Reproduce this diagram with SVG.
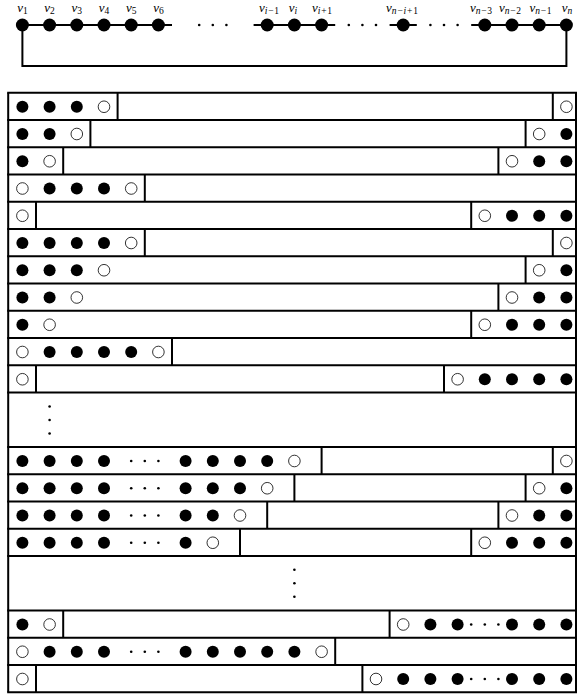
<svg xmlns="http://www.w3.org/2000/svg" width="577" height="696" viewBox="0 0 577 696">
<style>
.bg{fill:#fff}
.ln{stroke:#000;stroke-width:2;fill:none}
.f{fill:#000}
.h{fill:#fff;stroke:#000;stroke-width:0.8}
.d{fill:#000}
.lbl{font-family:"Liberation Serif",serif;font-style:italic;font-size:13px;fill:#000}
.s{font-size:9.5px}
.u{font-style:normal}
</style>
<rect class="bg" x="0" y="0" width="577" height="696"/>

<!-- top path graph -->
<g id="edges">
<path class="ln" d="M22.4 25H172M253.6 25H335.2M389.6 25H416.8M471.2 25H566.4"/>
<path class="ln" d="M22.4 25V66H566.4V25"/>
<circle class="d" cx="199.2" cy="25" r="1.3"/><circle class="d" cx="212.8" cy="25" r="1.3"/><circle class="d" cx="226.4" cy="25" r="1.3"/>
<circle class="d" cx="348.8" cy="25" r="1.3"/><circle class="d" cx="362.4" cy="25" r="1.3"/><circle class="d" cx="376" cy="25" r="1.3"/>
<circle class="d" cx="430.4" cy="25" r="1.3"/><circle class="d" cx="444" cy="25" r="1.3"/><circle class="d" cx="457.6" cy="25" r="1.3"/>
</g>
<g id="v1"><circle class="f" cx="22.4" cy="25" r="6.5"/><text class="lbl" x="22.4" y="11.5" text-anchor="middle">v<tspan class="s u" dy="2">1</tspan></text></g>
<g id="v2"><circle class="f" cx="49.6" cy="25" r="6.5"/><text class="lbl" x="49.6" y="11.5" text-anchor="middle">v<tspan class="s u" dy="2">2</tspan></text></g>
<g id="v3"><circle class="f" cx="76.8" cy="25" r="6.5"/><text class="lbl" x="76.8" y="11.5" text-anchor="middle">v<tspan class="s u" dy="2">3</tspan></text></g>
<g id="v4"><circle class="f" cx="104" cy="25" r="6.5"/><text class="lbl" x="104" y="11.5" text-anchor="middle">v<tspan class="s u" dy="2">4</tspan></text></g>
<g id="v5"><circle class="f" cx="131.2" cy="25" r="6.5"/><text class="lbl" x="131.2" y="11.5" text-anchor="middle">v<tspan class="s u" dy="2">5</tspan></text></g>
<g id="v6"><circle class="f" cx="158.4" cy="25" r="6.5"/><text class="lbl" x="158.4" y="11.5" text-anchor="middle">v<tspan class="s u" dy="2">6</tspan></text></g>
<g id="vi-1"><circle class="f" cx="267.2" cy="25" r="6.5"/><text class="lbl" x="269" y="11.5" text-anchor="middle">v<tspan class="s" dy="2">i</tspan><tspan class="s u" dx="0.8">−</tspan><tspan class="s u" dx="0.8">1</tspan></text></g>
<g id="vi"><circle class="f" cx="294.4" cy="25" r="6.5"/><text class="lbl" x="293" y="11.5" text-anchor="middle">v<tspan class="s" dy="2">i</tspan></text></g>
<g id="vi+1"><circle class="f" cx="321.6" cy="25" r="6.5"/><text class="lbl" x="322" y="11.5" text-anchor="middle">v<tspan class="s" dy="2">i</tspan><tspan class="s u" dx="0.8">+</tspan><tspan class="s u" dx="0.8">1</tspan></text></g>
<g id="vn-i+1"><circle class="f" cx="403.2" cy="25" r="6.5"/><text class="lbl" x="402" y="11.5" text-anchor="middle">v<tspan class="s" dy="2">n</tspan><tspan class="s u" dx="0.8">−</tspan><tspan class="s" dx="0.8">i</tspan><tspan class="s u" dx="0.8">+</tspan><tspan class="s u" dx="0.8">1</tspan></text></g>
<g id="vn-3"><circle class="f" cx="484.8" cy="25" r="6.5"/><text class="lbl" x="481" y="11.5" text-anchor="middle">v<tspan class="s" dy="2">n</tspan><tspan class="s u" dx="0.8">−</tspan><tspan class="s u" dx="0.8">3</tspan></text></g>
<g id="vn-2"><circle class="f" cx="512" cy="25" r="6.5"/><text class="lbl" x="510" y="11.5" text-anchor="middle">v<tspan class="s" dy="2">n</tspan><tspan class="s u" dx="0.8">−</tspan><tspan class="s u" dx="0.8">2</tspan></text></g>
<g id="vn-1"><circle class="f" cx="539.2" cy="25" r="6.5"/><text class="lbl" x="540.5" y="11.5" text-anchor="middle">v<tspan class="s" dy="2">n</tspan><tspan class="s u" dx="0.8">−</tspan><tspan class="s u" dx="0.8">1</tspan></text></g>
<g id="vn"><circle class="f" cx="566.4" cy="25" r="6.5"/><text class="lbl" x="567" y="11.5" text-anchor="middle">v<tspan class="s" dy="2">n</tspan></text></g>

<!-- table grid -->
<g id="grid">
<path class="ln" d="M8.2 92.75V692.25M576 92.75V692.25"/>
<path class="ln" d="M7.2 92.75H577M7.2 120H577M7.2 147.25H577M7.2 174.5H577M7.2 201.75H577M7.2 229H577M7.2 256.25H577M7.2 283.5H577M7.2 310.75H577M7.2 338H577M7.2 365.25H577M7.2 392.5H577M7.2 447H577M7.2 474.25H577M7.2 501.5H577M7.2 528.75H577M7.2 556H577M7.2 610.5H577M7.2 637.75H577M7.2 665H577M7.2 692.25H577"/>
</g>

<g id="row1">
<circle class="f" cx="22.4" cy="106.75" r="6"/><circle class="f" cx="49.6" cy="106.75" r="6"/><circle class="f" cx="76.8" cy="106.75" r="6"/><circle class="h" cx="104" cy="106.75" r="5.8"/>
<path class="ln" d="M117.6 92.75V120M552.8 92.75V120"/>
<circle class="h" cx="566.4" cy="106.75" r="5.8"/>
</g>
<g id="row2">
<circle class="f" cx="22.4" cy="134" r="6"/><circle class="f" cx="49.6" cy="134" r="6"/><circle class="h" cx="76.8" cy="134" r="5.8"/>
<path class="ln" d="M90.4 120V147.25M525.6 120V147.25"/>
<circle class="h" cx="539.2" cy="134" r="5.8"/><circle class="f" cx="566.4" cy="134" r="6"/>
</g>
<g id="row3">
<circle class="f" cx="22.4" cy="161.25" r="6"/><circle class="h" cx="49.6" cy="161.25" r="5.8"/>
<path class="ln" d="M63.2 147.25V174.5M498.4 147.25V174.5"/>
<circle class="h" cx="512" cy="161.25" r="5.8"/><circle class="f" cx="539.2" cy="161.25" r="6"/><circle class="f" cx="566.4" cy="161.25" r="6"/>
</g>
<g id="row4">
<circle class="h" cx="22.4" cy="188.5" r="5.8"/><circle class="f" cx="49.6" cy="188.5" r="6"/><circle class="f" cx="76.8" cy="188.5" r="6"/><circle class="f" cx="104" cy="188.5" r="6"/><circle class="h" cx="131.2" cy="188.5" r="5.8"/>
<path class="ln" d="M144.8 174.5V201.75"/>
</g>
<g id="row5">
<circle class="h" cx="22.4" cy="215.75" r="5.8"/>
<path class="ln" d="M36 201.75V229M471.2 201.75V229"/>
<circle class="h" cx="484.8" cy="215.75" r="5.8"/><circle class="f" cx="512" cy="215.75" r="6"/><circle class="f" cx="539.2" cy="215.75" r="6"/><circle class="f" cx="566.4" cy="215.75" r="6"/>
</g>
<g id="row6">
<circle class="f" cx="22.4" cy="243" r="6"/><circle class="f" cx="49.6" cy="243" r="6"/><circle class="f" cx="76.8" cy="243" r="6"/><circle class="f" cx="104" cy="243" r="6"/><circle class="h" cx="131.2" cy="243" r="5.8"/>
<path class="ln" d="M144.8 229V256.25M552.8 229V256.25"/>
<circle class="h" cx="566.4" cy="243" r="5.8"/>
</g>
<g id="row7">
<circle class="f" cx="22.4" cy="270.25" r="6"/><circle class="f" cx="49.6" cy="270.25" r="6"/><circle class="f" cx="76.8" cy="270.25" r="6"/><circle class="h" cx="104" cy="270.25" r="5.8"/>
<path class="ln" d="M525.6 256.25V283.5"/>
<circle class="h" cx="539.2" cy="270.25" r="5.8"/><circle class="f" cx="566.4" cy="270.25" r="6"/>
</g>
<g id="row8">
<circle class="f" cx="22.4" cy="297.5" r="6"/><circle class="f" cx="49.6" cy="297.5" r="6"/><circle class="h" cx="76.8" cy="297.5" r="5.8"/>
<path class="ln" d="M498.4 283.5V310.75"/>
<circle class="h" cx="512" cy="297.5" r="5.8"/><circle class="f" cx="539.2" cy="297.5" r="6"/><circle class="f" cx="566.4" cy="297.5" r="6"/>
</g>
<g id="row9">
<circle class="f" cx="22.4" cy="324.75" r="6"/><circle class="h" cx="49.6" cy="324.75" r="5.8"/>
<path class="ln" d="M471.2 310.75V338"/>
<circle class="h" cx="484.8" cy="324.75" r="5.8"/><circle class="f" cx="512" cy="324.75" r="6"/><circle class="f" cx="539.2" cy="324.75" r="6"/><circle class="f" cx="566.4" cy="324.75" r="6"/>
</g>
<g id="row10">
<circle class="h" cx="22.4" cy="352" r="5.8"/><circle class="f" cx="49.6" cy="352" r="6"/><circle class="f" cx="76.8" cy="352" r="6"/><circle class="f" cx="104" cy="352" r="6"/><circle class="f" cx="131.2" cy="352" r="6"/><circle class="h" cx="158.4" cy="352" r="5.8"/>
<path class="ln" d="M172 338V365.25"/>
</g>
<g id="row11">
<circle class="h" cx="22.4" cy="379.25" r="5.8"/>
<path class="ln" d="M36 365.25V392.5M444 365.25V392.5"/>
<circle class="h" cx="457.6" cy="379.25" r="5.8"/><circle class="f" cx="484.8" cy="379.25" r="6"/><circle class="f" cx="512" cy="379.25" r="6"/><circle class="f" cx="539.2" cy="379.25" r="6"/><circle class="f" cx="566.4" cy="379.25" r="6"/>
</g>
<g id="gap1">
<circle class="d" cx="49.6" cy="406.5" r="1.3"/><circle class="d" cx="49.6" cy="420" r="1.3"/><circle class="d" cx="49.6" cy="433.5" r="1.3"/>
</g>
<g id="row13">
<circle class="f" cx="22.4" cy="461" r="6"/><circle class="f" cx="49.6" cy="461" r="6"/><circle class="f" cx="76.8" cy="461" r="6"/><circle class="f" cx="104" cy="461" r="6"/>
<circle class="d" cx="131.2" cy="461" r="1.3"/><circle class="d" cx="144.8" cy="461" r="1.3"/><circle class="d" cx="158.4" cy="461" r="1.3"/>
<circle class="f" cx="185.6" cy="461" r="6"/><circle class="f" cx="212.8" cy="461" r="6"/><circle class="f" cx="240" cy="461" r="6"/><circle class="f" cx="267.2" cy="461" r="6"/><circle class="h" cx="294.4" cy="461" r="5.8"/>
<path class="ln" d="M321.6 447V474.25M552.8 447V474.25"/>
<circle class="h" cx="566.4" cy="461" r="5.8"/>
</g>
<g id="row14">
<circle class="f" cx="22.4" cy="488.25" r="6"/><circle class="f" cx="49.6" cy="488.25" r="6"/><circle class="f" cx="76.8" cy="488.25" r="6"/><circle class="f" cx="104" cy="488.25" r="6"/>
<circle class="d" cx="131.2" cy="488.25" r="1.3"/><circle class="d" cx="144.8" cy="488.25" r="1.3"/><circle class="d" cx="158.4" cy="488.25" r="1.3"/>
<circle class="f" cx="185.6" cy="488.25" r="6"/><circle class="f" cx="212.8" cy="488.25" r="6"/><circle class="f" cx="240" cy="488.25" r="6"/><circle class="h" cx="267.2" cy="488.25" r="5.8"/>
<path class="ln" d="M294.4 474.25V501.5M525.6 474.25V501.5"/>
<circle class="h" cx="539.2" cy="488.25" r="5.8"/><circle class="f" cx="566.4" cy="488.25" r="6"/>
</g>
<g id="row15">
<circle class="f" cx="22.4" cy="515.5" r="6"/><circle class="f" cx="49.6" cy="515.5" r="6"/><circle class="f" cx="76.8" cy="515.5" r="6"/><circle class="f" cx="104" cy="515.5" r="6"/>
<circle class="d" cx="131.2" cy="515.5" r="1.3"/><circle class="d" cx="144.8" cy="515.5" r="1.3"/><circle class="d" cx="158.4" cy="515.5" r="1.3"/>
<circle class="f" cx="185.6" cy="515.5" r="6"/><circle class="f" cx="212.8" cy="515.5" r="6"/><circle class="h" cx="240" cy="515.5" r="5.8"/>
<path class="ln" d="M267.2 501.5V528.75M498.4 501.5V528.75"/>
<circle class="h" cx="512" cy="515.5" r="5.8"/><circle class="f" cx="539.2" cy="515.5" r="6"/><circle class="f" cx="566.4" cy="515.5" r="6"/>
</g>
<g id="row16">
<circle class="f" cx="22.4" cy="542.75" r="6"/><circle class="f" cx="49.6" cy="542.75" r="6"/><circle class="f" cx="76.8" cy="542.75" r="6"/><circle class="f" cx="104" cy="542.75" r="6"/>
<circle class="d" cx="131.2" cy="542.75" r="1.3"/><circle class="d" cx="144.8" cy="542.75" r="1.3"/><circle class="d" cx="158.4" cy="542.75" r="1.3"/>
<circle class="f" cx="185.6" cy="542.75" r="6"/><circle class="h" cx="212.8" cy="542.75" r="5.8"/>
<path class="ln" d="M240 528.75V556M471.2 528.75V556"/>
<circle class="h" cx="484.8" cy="542.75" r="5.8"/><circle class="f" cx="512" cy="542.75" r="6"/><circle class="f" cx="539.2" cy="542.75" r="6"/><circle class="f" cx="566.4" cy="542.75" r="6"/>
</g>
<g id="gap2">
<circle class="d" cx="294.4" cy="569.75" r="1.3"/><circle class="d" cx="294.4" cy="583.25" r="1.3"/><circle class="d" cx="294.4" cy="596.75" r="1.3"/>
</g>
<g id="row18">
<circle class="f" cx="22.4" cy="624.5" r="6"/><circle class="h" cx="49.6" cy="624.5" r="5.8"/>
<path class="ln" d="M63.2 610.5V637.75M389.6 610.5V637.75"/>
<circle class="h" cx="403.2" cy="624.5" r="5.8"/><circle class="f" cx="430.4" cy="624.5" r="6"/><circle class="f" cx="457.6" cy="624.5" r="6"/>
<circle class="d" cx="471.2" cy="624.5" r="1.3"/><circle class="d" cx="484.8" cy="624.5" r="1.3"/><circle class="d" cx="498.4" cy="624.5" r="1.3"/>
<circle class="f" cx="512" cy="624.5" r="6"/><circle class="f" cx="539.2" cy="624.5" r="6"/><circle class="f" cx="566.4" cy="624.5" r="6"/>
</g>
<g id="row19">
<circle class="h" cx="22.4" cy="651.75" r="5.8"/><circle class="f" cx="49.6" cy="651.75" r="6"/><circle class="f" cx="76.8" cy="651.75" r="6"/><circle class="f" cx="104" cy="651.75" r="6"/>
<circle class="d" cx="131.2" cy="651.75" r="1.3"/><circle class="d" cx="144.8" cy="651.75" r="1.3"/><circle class="d" cx="158.4" cy="651.75" r="1.3"/>
<circle class="f" cx="185.6" cy="651.75" r="6"/><circle class="f" cx="212.8" cy="651.75" r="6"/><circle class="f" cx="240" cy="651.75" r="6"/><circle class="f" cx="267.2" cy="651.75" r="6"/><circle class="f" cx="294.4" cy="651.75" r="6"/><circle class="h" cx="321.6" cy="651.75" r="5.8"/>
<path class="ln" d="M335.2 637.75V665"/>
</g>
<g id="row20">
<circle class="h" cx="22.4" cy="679" r="5.8"/>
<path class="ln" d="M36 665V692.25M362.4 665V692.25"/>
<circle class="h" cx="376" cy="679" r="5.8"/><circle class="f" cx="403.2" cy="679" r="6"/><circle class="f" cx="430.4" cy="679" r="6"/><circle class="f" cx="457.6" cy="679" r="6"/>
<circle class="d" cx="471.2" cy="679" r="1.3"/><circle class="d" cx="484.8" cy="679" r="1.3"/><circle class="d" cx="498.4" cy="679" r="1.3"/>
<circle class="f" cx="512" cy="679" r="6"/><circle class="f" cx="539.2" cy="679" r="6"/><circle class="f" cx="566.4" cy="679" r="6"/>
</g>
</svg>
